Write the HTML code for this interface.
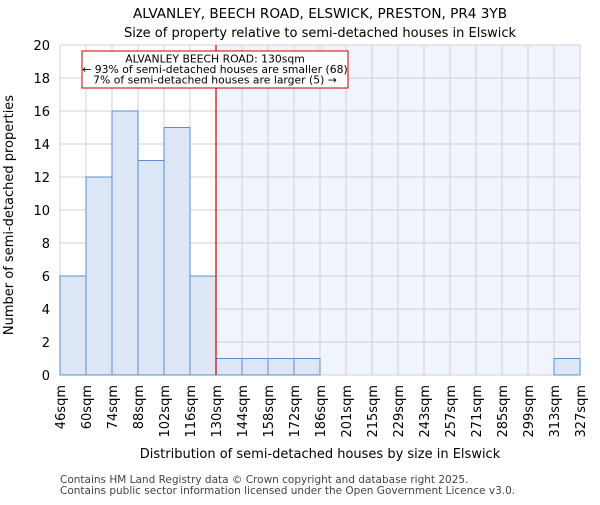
<!DOCTYPE html>
<html><head><meta charset="utf-8"><style>body{margin:0;background:#fff}svg{font-family:"DejaVu Sans","Liberation Sans",sans-serif}</style></head>
<body>
<svg id="chart" width="600" height="500" xmlns="http://www.w3.org/2000/svg">
<text x="320" y="18" text-anchor="middle" font-size="13.6">ALVANLEY, BEECH ROAD, ELSWICK, PRESTON, PR4 3YB</text>
<text x="320" y="37" text-anchor="middle" font-size="13">Size of property relative to semi-detached houses in Elswick</text>
<g id="plot"></g>
<text x="320" y="458" text-anchor="middle" font-size="13">Distribution of semi-detached houses by size in Elswick</text>
<text transform="translate(13,215) rotate(-90)" text-anchor="middle" font-size="13">Number of semi-detached properties</text>
<text x="60" y="483" font-size="10.5" fill="#444">Contains HM Land Registry data © Crown copyright and database right 2025.</text>
<text x="60" y="494" font-size="10.5" fill="#444">Contains public sector information licensed under the Open Government Licence v3.0.</text>
</svg>
<script>
const binLabels=["46sqm","60sqm","74sqm","88sqm","102sqm","116sqm","130sqm","144sqm","158sqm","172sqm","186sqm","201sqm","215sqm","229sqm","243sqm","257sqm","271sqm","285sqm","299sqm","313sqm","327sqm"];
const counts=[6,12,16,13,15,6,1,1,1,1,0,0,0,0,0,0,0,0,0,1];
const yTicks=[0,2,4,6,8,10,12,14,16,18,20];
const markerIndex=6;
const NS="http://www.w3.org/2000/svg";
const g=document.getElementById('plot');
const x0=60,x1=580,y0=375,y1=45,yMax=20;
const bw=(x1-x0)/counts.length;
const X=i=>x0+i*bw, Y=v=>y0-(v/yMax)*(y0-y1);
function mk(t,a){const e=document.createElementNS(NS,t);for(const k in a)e.setAttribute(k,a[k]);g.appendChild(e);return e;}
let e=mk('rect',{x:X(markerIndex),y:y1,width:x1-X(markerIndex),height:y0-y1,fill:'#f0f4fc'});


yTicks.forEach(t=>{
 let l=mk('line',{x1:x0,x2:x1,y1:Y(t),y2:Y(t),stroke:'#d0d0d0'});
 
 
 let tx=mk('text',{x:x0-10,y:Y(t)+5,'text-anchor':'end','font-size':13});tx.textContent=t;
 
 
});
binLabels.forEach((lab,i)=>{
 let l=mk('line',{x1:X(i),x2:X(i),y1:y1,y2:y0,stroke:'#d0d0d0'});
 
 
 let tx=mk('text',{transform:`translate(${X(i)+5},${y0+10}) rotate(-90)`,'text-anchor':'end','font-size':13});tx.textContent=lab;
 
 
});
counts.forEach((c,i)=>{
 if(c<=0)return;
 let r=mk('rect',{x:X(i),y:Y(c),width:bw,height:y0-Y(c),fill:'#dce6f4',stroke:'#5b8fd0','stroke-width':1});
 
 
});
let ml=mk('line',{x1:X(markerIndex),x2:X(markerIndex),y1:y1,y2:y0,stroke:'#cc0000','stroke-width':1.2});


let bx=mk('rect',{x:82,y:51,width:266,height:37,fill:'#fff',stroke:'#cc0000'});


["ALVANLEY BEECH ROAD: 130sqm","← 93% of semi-detached houses are smaller (68)","7% of semi-detached houses are larger (5) →"].forEach((s,k)=>{
 let t=mk('text',{x:215,y:62.5+k*10.5,'text-anchor':'middle','font-size':10.8});t.textContent=s;
 
 
});
</script>
</body></html>
